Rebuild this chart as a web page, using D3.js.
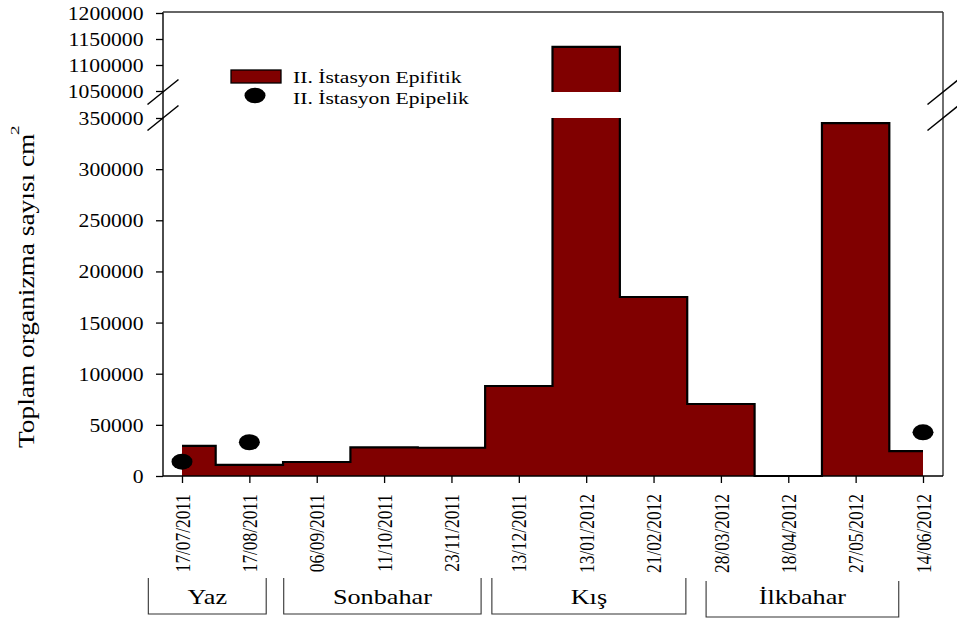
<!DOCTYPE html>
<html>
<head>
<meta charset="utf-8">
<script src="https://cdn.jsdelivr.net/npm/d3@7"></script>
<style>
  body { margin: 0; background: #fff; }
  text { font-family: "Liberation Serif", "Times New Roman", serif; fill: #000; }
</style>
</head>
<body>
<div id="chart"></div>
<script>
const width = 957;
const height = 619;

// sampling dates and values (organisms per cm2)
const dates = ["17/07/2011", "17/08/2011", "06/09/2011", "11/10/2011", "23/11/2011", "13/12/2011",
    "13/01/2012", "21/02/2012", "28/03/2012", "18/04/2012", "27/05/2012", "14/06/2012"];
const epifitik = [29500, 10800, 13700, 28000, 27600, 88000, 1135000, 175000, 70400, 0, 345000, 24400];
const epipelik = [14000, 33000, null, null, null, null, null, null, null, null, null, 42700];

const lowTicks = [0, 50000, 100000, 150000, 200000, 250000, 300000, 350000];
const highTicks = [1050000, 1100000, 1150000, 1200000];

// seasons, spans given in date-index units
const seasons = ["Yaz", "Sonbahar", "Kış", "İlkbahar"];
const seasonFrom = [-0.5, 1.51, 4.6, 7.78];
const seasonTo = [1.25, 4.44, 7.48, 10.64];

const legendLabels = ["II. İstasyon Epifitik", "II. İstasyon Epipelik"];

const margin = { top: 12, right: 14, bottom: 143, left: 163 };
const w = width - margin.left - margin.right;   // 780
const h = height - margin.top - margin.bottom;  // 464
const fillColor = "#800000";

const svg = d3.select("#chart").append("svg")
    .attr("width", width)
    .attr("height", height);

const g = svg.append("g").attr("transform", `translate(${margin.left},${margin.top})`);

const x = d3.scalePoint().domain(dates).range([19, 760]);
const xi = d3.scaleLinear().domain([0, dates.length - 1]).range([19, 760]);
const yLow = d3.scaleLinear().domain([0, 350000]).range([h, 106]);
const yHigh = d3.scaleLinear().domain([1050000, 1200000]).range([79, 1]);

// the original figure has its text widened horizontally
function hstretch(sel, k) {
    sel.each(function () {
        const t = d3.select(this);
        const tx = +t.attr("x") || 0;
        const ty = +t.attr("y") || 0;
        t.attr("x", 0).attr("y", 0)
            .attr("transform", `translate(${tx},${ty}) scale(${k},1)`);
    });
}

const defs = svg.append("defs");
defs.append("clipPath").attr("id", "clipLow")
    .append("rect").attr("x", 0).attr("y", 106).attr("width", w).attr("height", h - 106 + 2);
defs.append("clipPath").attr("id", "clipHigh")
    .append("rect").attr("x", 0).attr("y", 0).attr("width", w).attr("height", 80);

// step areas for both segments of the broken axis
[[yLow, "clipLow"], [yHigh, "clipHigh"]].forEach(([ys, clip]) => {
    const seg = g.append("g").attr("clip-path", `url(#${clip})`);
    seg.append("path")
        .datum(epifitik)
        .attr("fill", fillColor)
        .attr("d", d3.area()
            .curve(d3.curveStep)
            .x((d, i) => x(dates[i]))
            .y0(ys === yLow ? yLow(0) : h)
            .y1(d => ys(d)));
    seg.append("path")
        .datum(epifitik)
        .attr("fill", "none")
        .attr("stroke", "#000")
        .attr("stroke-width", 2.2)
        .attr("d", d3.line()
            .curve(d3.curveStep)
            .x((d, i) => x(dates[i]))
            .y(d => ys(d)));
});

// frame
g.append("line").attr("x1", 0).attr("x2", 0).attr("y1", 0).attr("y2", h).attr("stroke", "#000").attr("stroke-width", 1.4);
g.append("line").attr("x1", w).attr("x2", w).attr("y1", 0).attr("y2", h).attr("stroke", "#222").attr("stroke-width", 1.3);
g.append("line").attr("x1", 0).attr("x2", w).attr("y1", 0).attr("y2", 0).attr("stroke", "#333").attr("stroke-width", 1.3);

// epipelik points
g.selectAll(".dot")
    .data(epipelik.map((v, i) => ({ v, d: dates[i] })).filter(p => p.v !== null))
    .enter().append("ellipse")
    .attr("class", "dot")
    .attr("cx", p => x(p.d))
    .attr("cy", p => yLow(p.v))
    .attr("rx", 10.5)
    .attr("ry", 8)
    .attr("fill", "#000");

// y axes
function styleY(sel) {
    sel.select(".domain").remove();
    sel.selectAll(".tick line").attr("stroke", "#000").attr("stroke-width", 1.3);
    sel.selectAll(".tick text")
        .attr("x", -19.5)
        .attr("dy", "0.34em")
        .style("font-size", "19px")
        .style("font-family", "Liberation Serif");
    hstretch(sel.selectAll(".tick text"), 1.14);
}
g.append("g")
    .call(d3.axisLeft(yLow).tickValues(lowTicks).tickSize(7).tickFormat(d3.format("d")))
    .call(styleY);
g.append("g")
    .call(d3.axisLeft(yHigh).tickValues(highTicks).tickSize(7).tickFormat(d3.format("d")))
    .call(styleY);

// x axis, labels squeezed along their (vertical) length
const xAxis = g.append("g")
    .attr("transform", `translate(0,${h})`)
    .call(d3.axisBottom(x).tickSize(7).tickSizeOuter(0));
xAxis.select(".domain").attr("stroke", "#000").attr("stroke-width", 1.4)
    .attr("d", `M0,0H${w}`);
xAxis.selectAll(".tick line").attr("stroke", "#000").attr("stroke-width", 1.3);
xAxis.selectAll(".tick text")
    .attr("transform", "scale(1,0.825) rotate(-90)")
    .attr("x", -18 / 0.825)
    .attr("y", 0)
    .attr("dy", "0.34em")
    .style("text-anchor", "end")
    .style("font-size", "21px")
    .style("font-family", "Liberation Serif");

// axis break marks
[0, w].forEach(bx => {
    [yHigh.range()[0] + 1, yLow.range()[1]].forEach(by => {
        g.append("line")
            .attr("x1", bx - 15.5).attr("y1", by + 12.5)
            .attr("x2", bx + 15.5).attr("y2", by - 12.5)
            .attr("stroke", "#000").attr("stroke-width", 1.5);
    });
});

// y title
svg.append("text")
    .attr("transform", "translate(34,448) scale(1,1.19) rotate(-90)")
    .style("font-size", "23px")
    .text("Toplam organizma sayısı cm");
svg.append("text")
    .attr("transform", "translate(19,135) scale(1,1.6) rotate(-90)")
    .style("font-size", "12px")
    .text("2");

// legend
const legend = svg.append("g");
legend.append("rect")
    .attr("x", 231).attr("y", 70).attr("width", 50).attr("height", 13)
    .attr("fill", fillColor).attr("stroke", "#000").attr("stroke-width", 1.3);
legend.append("ellipse")
    .attr("cx", 255).attr("cy", 95.5).attr("rx", 10.5).attr("ry", 7.8).attr("fill", "#000");
legend.selectAll(".leg")
    .data(legendLabels)
    .enter().append("text")
    .attr("class", "leg")
    .attr("x", 293)
    .attr("y", (d, i) => 83.3 + i * 20.2)
    .style("font-size", "16.5px")
    .text(d => d)
    .call(s => hstretch(s, 1.31));

// season brackets
const sg = svg.append("g").attr("transform", `translate(${margin.left},0)`);
seasons.forEach((name, i) => {
    const x0 = xi(seasonFrom[i]);
    const x1 = xi(seasonTo[i]);
    const top = i === 3 ? 581 : 578;
    sg.append("path")
        .attr("d", `M${x0},${top}V${top + 36}H${x1}V${top}`)
        .attr("fill", "none")
        .attr("stroke", "#333")
        .attr("stroke-width", 1.1);
    sg.append("text")
        .attr("x", (x0 + x1) / 2)
        .attr("y", 604)
        .style("text-anchor", "middle")
        .style("font-size", "21.5px")
        .text(name)
        .call(s => hstretch(s, 1.22));
});
</script>
</body>
</html>
